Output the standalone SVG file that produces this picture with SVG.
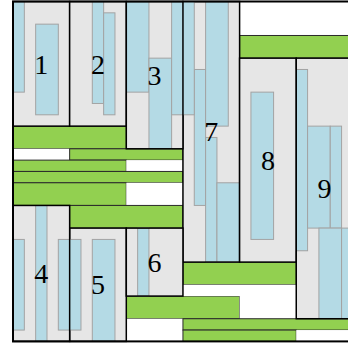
<svg xmlns="http://www.w3.org/2000/svg" width="348" height="345" viewBox="0 0 348 345">
<style>
.bg{fill:#ffffff}
.node{fill:#e6e6e6}
.border{fill:none;stroke:#000;stroke-width:1.5}
.blue{fill:#b4dae5;stroke:#a3a3a3;stroke-width:1}
.green{fill:#92d050;stroke:#2b2b2b;stroke-width:1}
.white{fill:#ffffff}
.lbl{font-family:"Liberation Serif","DejaVu Serif",serif;font-size:28px;fill:#000;text-anchor:middle}
</style>
<rect class="bg" x="0" y="0" width="348" height="345"/>
<g id="fillers">
<rect class="white" x="239.6" y="1.5" width="113.3" height="33.99"/>
<rect class="green" x="239.6" y="35.49" width="113.3" height="22.66"/>
<rect class="green" x="13" y="126.13" width="113.3" height="22.66"/>
<rect class="white" x="13" y="148.79" width="56.65" height="11.33"/>
<rect class="green" x="69.65" y="148.79" width="113.3" height="11.33"/>
<rect class="green" x="13" y="160.12" width="113.3" height="11.33"/>
<rect class="white" x="126.3" y="160.12" width="56.65" height="11.33"/>
<rect class="green" x="13" y="171.45" width="169.95" height="11.33"/>
<rect class="green" x="13" y="182.78" width="113.3" height="22.66"/>
<rect class="white" x="126.3" y="182.78" width="56.65" height="22.66"/>
<rect class="green" x="69.65" y="205.44" width="113.3" height="22.66"/>
<rect class="green" x="126.3" y="296.08" width="113.3" height="22.66"/>
<rect class="white" x="126.3" y="318.74" width="56.65" height="22.66"/>
<rect class="green" x="182.95" y="262.09" width="113.3" height="22.66"/>
<rect class="white" x="182.95" y="284.75" width="113.3" height="11.33"/>
<rect class="white" x="239.6" y="296.08" width="56.65" height="22.66"/>
<rect class="green" x="182.95" y="318.74" width="169.95" height="11.33"/>
<rect class="green" x="182.95" y="330.07" width="113.3" height="11.33"/>
<rect class="white" x="296.25" y="330.07" width="56.65" height="11.33"/>
</g>
<g id="node1">
<rect class="node" x="13" y="1.5" width="56.65" height="124.63"/>
<rect class="blue" x="13" y="1.5" width="11.33" height="90.64"/>
<rect class="blue" x="35.66" y="24.16" width="22.66" height="90.64"/>
<rect class="border" x="13" y="1.5" width="56.65" height="124.63"/>
<text class="lbl" x="41.3" y="73.5">1</text>
</g>
<g id="node2">
<rect class="node" x="69.65" y="1.5" width="56.65" height="124.63"/>
<rect class="blue" x="92.31" y="1.5" width="11.33" height="101.97"/>
<rect class="blue" x="103.64" y="12.83" width="11.33" height="101.97"/>
<rect class="border" x="69.65" y="1.5" width="56.65" height="124.63"/>
<text class="lbl" x="97.97" y="73.5">2</text>
</g>
<g id="node7">
<rect class="node" x="182.95" y="1.5" width="56.65" height="260.59"/>
<rect class="blue" x="194.28" y="69.48" width="11.33" height="135.96"/>
<rect class="blue" x="205.61" y="1.5" width="22.66" height="124.63"/>
<rect class="blue" x="205.61" y="137.46" width="11.33" height="124.63"/>
<rect class="blue" x="216.94" y="182.78" width="22.66" height="79.31"/>
<rect class="border" x="182.95" y="1.5" width="56.65" height="260.59"/>
<text class="lbl" x="211.3" y="141.3">7</text>
</g>
<g id="node3">
<rect class="node" x="126.3" y="1.5" width="56.65" height="147.29"/>
<rect class="blue" x="126.3" y="1.5" width="22.66" height="90.64"/>
<rect class="blue" x="148.96" y="58.15" width="22.66" height="90.64"/>
<rect class="blue" x="171.62" y="1.5" width="22.66" height="113.3"/>
<rect class="border" x="126.3" y="1.5" width="56.65" height="147.29"/>
<text class="lbl" x="154.6" y="84.6">3</text>
</g>
<g id="node8">
<rect class="node" x="239.6" y="58.15" width="56.65" height="203.94"/>
<rect class="blue" x="250.93" y="92.14" width="22.66" height="147.29"/>
<rect class="border" x="239.6" y="58.15" width="56.65" height="203.94"/>
<text class="lbl" x="267.9" y="169.6">8</text>
</g>
<g id="node9">
<rect class="node" x="296.25" y="58.15" width="56.65" height="260.59"/>
<rect class="blue" x="296.25" y="69.48" width="11.33" height="181.28"/>
<rect class="blue" x="307.58" y="126.13" width="22.66" height="101.97"/>
<rect class="blue" x="330.24" y="126.13" width="11.33" height="101.97"/>
<rect class="blue" x="318.91" y="228.1" width="22.66" height="90.64"/>
<rect class="blue" x="341.57" y="228.1" width="22.66" height="90.64"/>
<rect class="border" x="296.25" y="58.15" width="56.65" height="260.59"/>
<text class="lbl" x="324.6" y="197.9">9</text>
</g>
<g id="node5">
<rect class="node" x="69.65" y="228.1" width="56.65" height="113.3"/>
<rect class="blue" x="92.31" y="239.43" width="22.66" height="101.97"/>
<rect class="border" x="69.65" y="228.1" width="56.65" height="113.3"/>
<text class="lbl" x="97.97" y="294.2">5</text>
</g>
<g id="node4">
<rect class="node" x="13" y="205.44" width="56.65" height="135.96"/>
<rect class="blue" x="13" y="239.43" width="11.33" height="90.64"/>
<rect class="blue" x="35.66" y="205.44" width="11.33" height="135.96"/>
<rect class="blue" x="58.32" y="239.43" width="22.66" height="90.64"/>
<rect class="border" x="13" y="205.44" width="56.65" height="135.96"/>
<text class="lbl" x="41.3" y="282.9">4</text>
</g>
<g id="node6">
<rect class="node" x="126.3" y="228.1" width="56.65" height="67.98"/>
<rect class="blue" x="137.63" y="228.1" width="11.33" height="67.98"/>
<rect class="border" x="126.3" y="228.1" width="56.65" height="67.98"/>
<text class="lbl" x="154.6" y="271.6">6</text>
</g>
<rect id="frame" x="13" y="1.5" width="345" height="339.9" fill="none" stroke="#000" stroke-width="2"/>
</svg>
